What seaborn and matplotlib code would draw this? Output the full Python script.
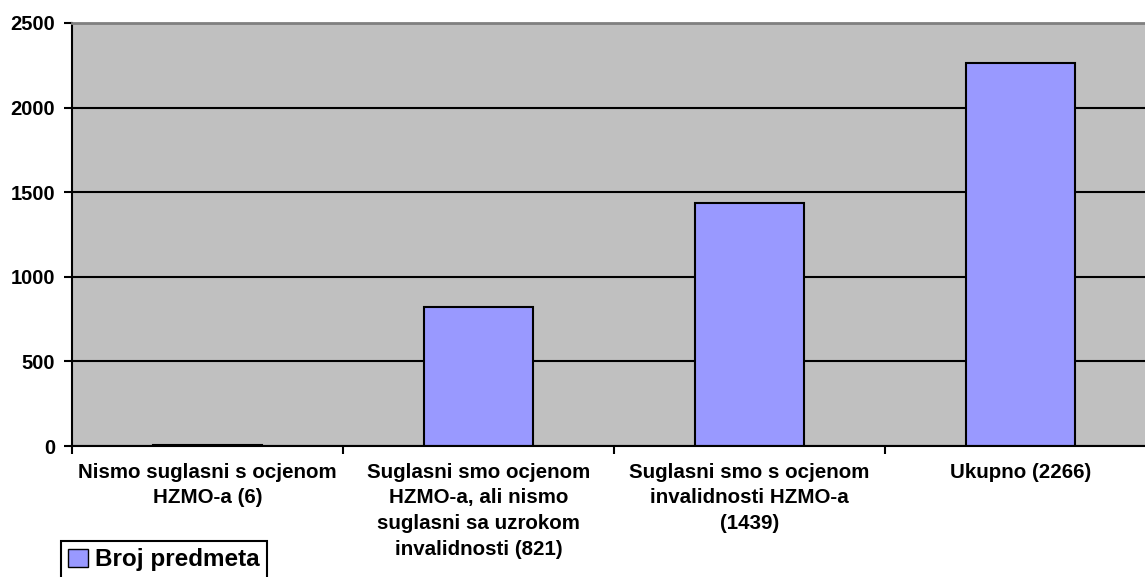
import matplotlib
matplotlib.use('Agg')
import matplotlib.pyplot as plt
import seaborn as sns
import pandas as pd

categories = [
    'Nismo suglasni s ocjenom\nHZMO-a (6)',
    'Suglasni smo ocjenom\nHZMO-a, ali nismo\nsuglasni sa uzrokom\ninvalidnosti (821)',
    'Suglasni smo s ocjenom\ninvalidnosti HZMO-a\n(1439)',
    'Ukupno (2266)',
]
values = [6, 821, 1439, 2266]
series_name = 'Broj predmeta'
y_ticks = [0, 500, 1000, 1500, 2000, 2500]

sns.set_style('white')
plt.rcParams['font.family'] = ['Liberation Sans', 'DejaVu Sans']
plt.rcParams['font.weight'] = 'bold'
plt.rcParams['text.color'] = 'black'
plt.rcParams['xtick.color'] = 'black'
plt.rcParams['ytick.color'] = 'black'

df = pd.DataFrame({'cat': categories, 'val': values, 'series': series_name})

fig = plt.figure(figsize=(11.45, 5.77), dpi=100)
ax = fig.add_axes([72 / 1145, 1 - 446 / 577, 1084 / 1145, 423 / 577])
ax.set_facecolor('#C0C0C0')

sns.barplot(data=df, x='cat', y='val', hue='series', palette=['#9999FF'],
            width=0.4, edgecolor='black', linewidth=1.5, saturation=1,
            ax=ax, legend=False)

ax.set_xlim(-0.5, 3.5)
ax.set_ylim(0, 2500)
ax.set_yticks(y_ticks)
ax.set_yticklabels([str(t) for t in y_ticks], fontsize=14.5, fontweight='bold')
ax.yaxis.grid(True, color='black', linewidth=1.5)
ax.set_axisbelow(True)

ax.set_xticks([-0.5, 0.5, 1.5, 2.5, 3.5])
ax.set_xticklabels([])
ax.set_xticks(range(len(categories)), minor=True)
ax.set_xticklabels(categories, minor=True, fontsize=14.8, fontweight='bold',
                   linespacing=1.45)
ax.tick_params(axis='x', which='major', direction='out', length=6, width=1.5,
               colors='black', bottom=True)
ax.tick_params(axis='x', which='minor', length=0, pad=12, bottom=True,
               labelcolor='black')
ax.tick_params(axis='y', direction='out', length=6, width=1.5, pad=6,
               left=True, colors='black')
ax.set_xlabel('')
ax.set_ylabel('')

for s in ['left', 'bottom']:
    ax.spines[s].set_color('black')
    ax.spines[s].set_linewidth(1.5)
ax.spines['top'].set_color('#808080')
ax.spines['top'].set_linewidth(2)
ax.spines['right'].set_visible(False)

handle = plt.Rectangle((0, 0), 1, 1, facecolor='#9999FF', edgecolor='black',
                       linewidth=1)
leg = fig.legend([handle], [series_name], loc='upper left',
                 bbox_to_anchor=(61 / 1145, 1 - 541 / 577),
                 bbox_transform=fig.transFigure, borderaxespad=0,
                 prop={'size': 17.5, 'weight': 'bold'}, fancybox=False,
                 handlelength=0.8, handleheight=0.8, handletextpad=0.3,
                 borderpad=0.3, framealpha=1)
leg.get_frame().set_edgecolor('black')
leg.get_frame().set_linewidth(1.5)
for t in leg.get_texts():
    t.set_color('black')

fig.savefig('out.png', dpi=100)
plt.close(fig)
